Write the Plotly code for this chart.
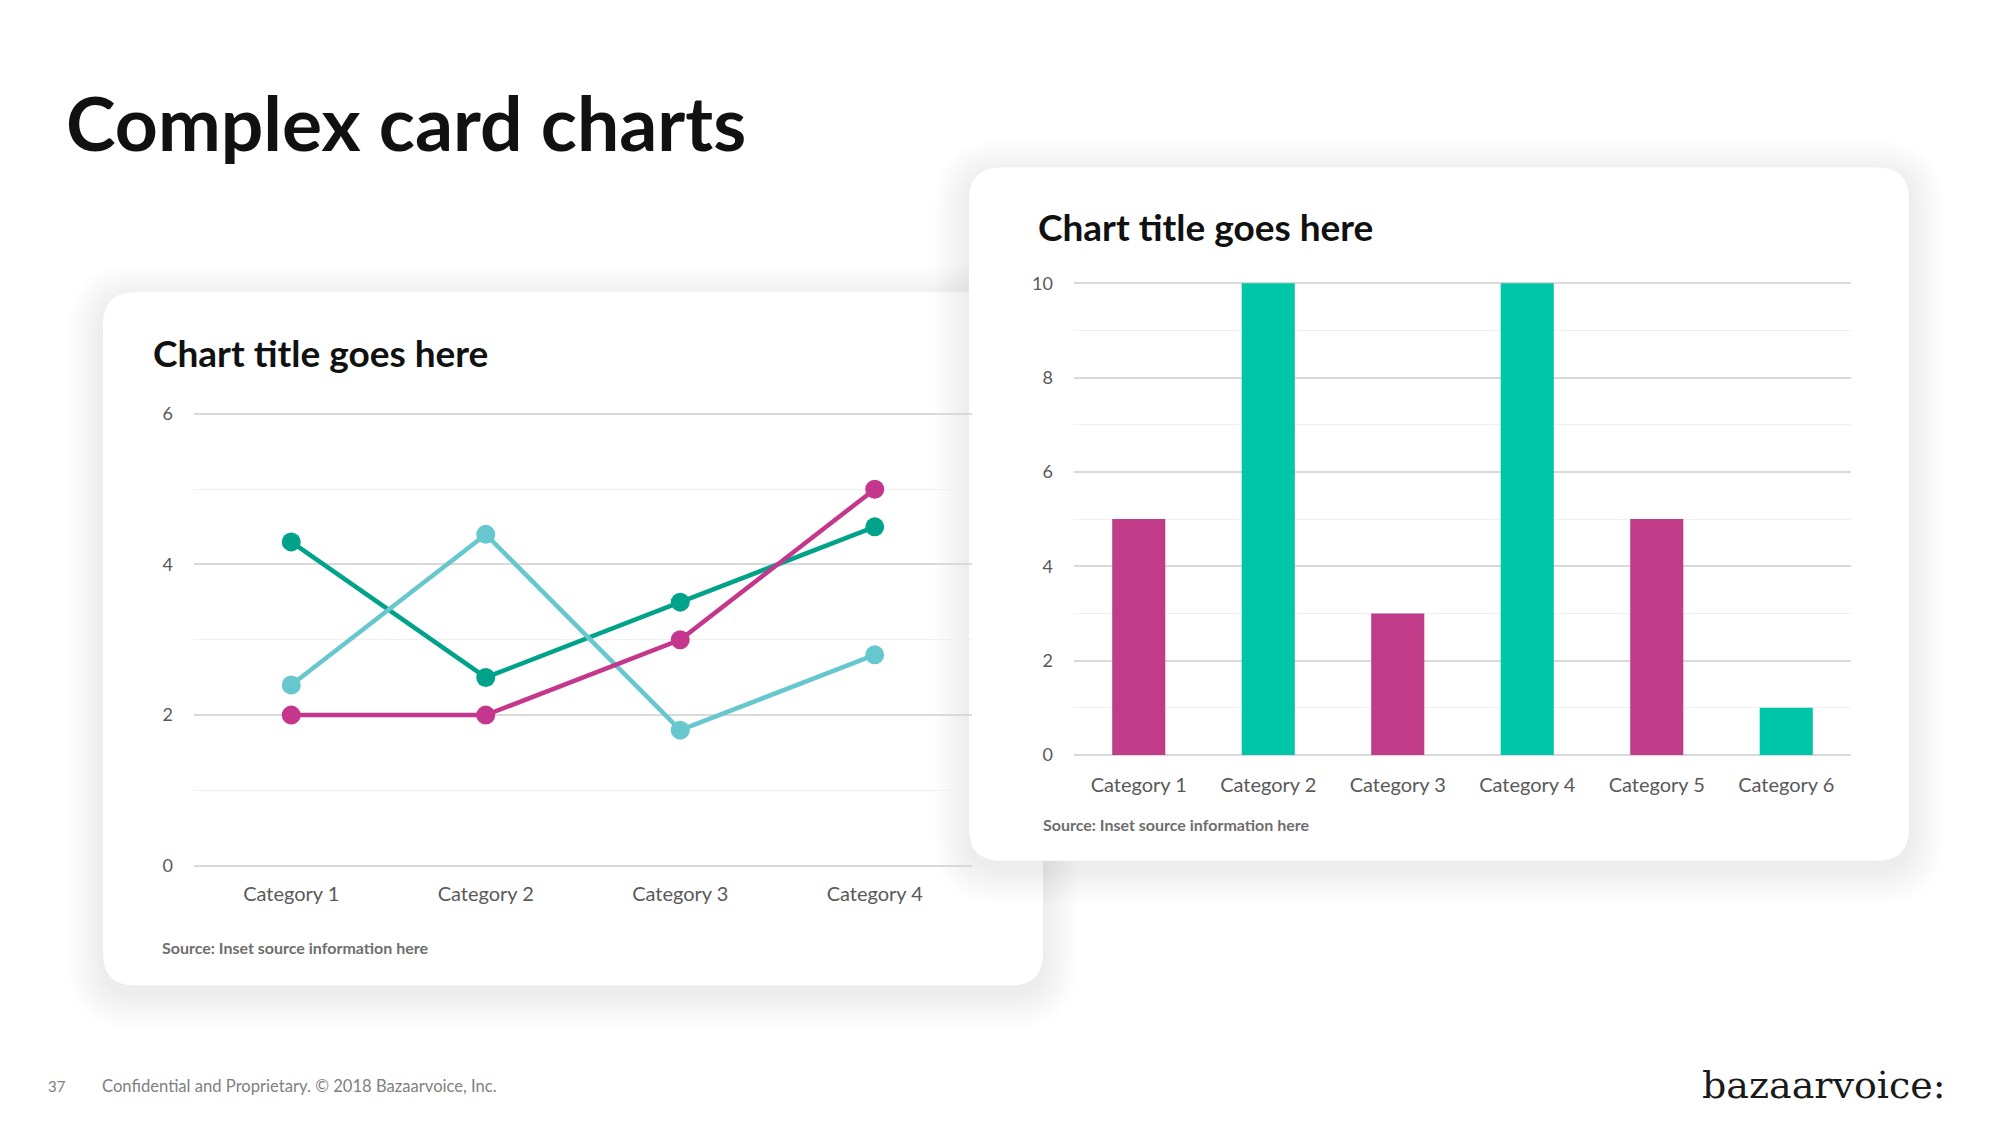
import plotly.graph_objects as go

W, H = 2000, 1125

# ---------------- data ----------------
line_categories = ["Category 1", "Category 2", "Category 3", "Category 4"]
series_green = [4.3, 2.5, 3.5, 4.5]
series_teal = [2.4, 4.4, 1.8, 2.8]
series_magenta = [2, 2, 3, 5]
line_major_ticks = [0, 2, 4, 6]
line_minor_ticks = [1, 3, 5]

bar_categories = ["Category 1", "Category 2", "Category 3", "Category 4", "Category 5", "Category 6"]
bar_values = [5, 10, 3, 10, 5, 1]
bar_major_ticks = [0, 2, 4, 6, 8, 10]
bar_minor_ticks = [1, 3, 5, 7, 9]

# ---------------- styles ----------------
GREEN = "#00A38A"
TEAL = "#66C8CE"
MAGENTA = "#C4378D"
BAR_TEAL = "#00C6A9"
BAR_MAGENTA = "#C03B88"
bar_colors = [BAR_MAGENTA, BAR_TEAL, BAR_MAGENTA, BAR_TEAL, BAR_MAGENTA, BAR_TEAL]
FONT = "Lato"
TICK_COLOR = "#595959"


def X(v):
    return v / W


def Y(v):
    return 1 - v / H


def rrect(x0, y0, x1, y1, r):
    return (
        f"M {X(x0 + r)},{Y(y0)} L {X(x1 - r)},{Y(y0)} Q {X(x1)},{Y(y0)} {X(x1)},{Y(y0 + r)} "
        f"L {X(x1)},{Y(y1 - r)} Q {X(x1)},{Y(y1)} {X(x1 - r)},{Y(y1)} "
        f"L {X(x0 + r)},{Y(y1)} Q {X(x0)},{Y(y1)} {X(x0)},{Y(y1 - r)} "
        f"L {X(x0)},{Y(y0 + r)} Q {X(x0)},{Y(y0)} {X(x0 + r)},{Y(y0)} Z"
    )


shapes = []


def card(x0, y0, x1, y1, r=32):
    for i in range(1, 19):
        e = i * 2
        dy = 8
        shapes.append(dict(
            type="path", xref="paper", yref="paper", layer="below",
            path=rrect(x0 - e, y0 - e + dy, x1 + e, y1 + e + dy, r + e),
            fillcolor="rgba(0,0,0,0.0048)", line=dict(width=0),
        ))
    shapes.append(dict(
        type="path", xref="paper", yref="paper", layer="below",
        path=rrect(x0, y0, x1, y1, r),
        fillcolor="white", line=dict(width=0),
    ))


card(103, 291, 1043, 986)
card(969, 166, 1909, 861)

fig = go.Figure()

for name, vals, col in [("Series 1", series_green, GREEN),
                        ("Series 2", series_teal, TEAL),
                        ("Series 3", series_magenta, MAGENTA)]:
    fig.add_trace(go.Scatter(
        x=line_categories, y=vals, name=name, mode="lines+markers",
        line=dict(color=col, width=4.5), marker=dict(color=col, size=19),
        xaxis="x", yaxis="y", showlegend=False,
    ))

fig.add_trace(go.Bar(
    x=bar_categories, y=bar_values, marker=dict(color=bar_colors, line=dict(width=0)),
    width=0.41, xaxis="x2", yaxis="y2", showlegend=False,
))

# left chart: value 0 at 866px, 6 at 413px
lu = (866 - 413) / 6
ly_lo, ly_hi = -0.15, 6.15
ldom = [Y(866 - ly_lo * lu), Y(866 - ly_hi * lu)]
# right chart: 0 at 755px, 10 at 282px
ru = (755 - 282) / 10
ry_lo, ry_hi = -0.2, 10.2
rdom = [Y(755 - ry_lo * ru), Y(755 - ry_hi * ru)]

xcommon = dict(type="category", showgrid=False, zeroline=False, showline=False, ticks="",
               tickfont=dict(family=FONT, size=20, color=TICK_COLOR))
ycommon = dict(showgrid=True, gridcolor="#D9D9D9", gridwidth=2, zeroline=False, showline=False,
               ticks="", tickfont=dict(family=FONT, size=18, color=TICK_COLOR), ticklabelstandoff=20)

fig.update_layout(
    width=W, height=H,
    margin=dict(l=0, r=0, t=0, b=0),
    paper_bgcolor="white", plot_bgcolor="rgba(0,0,0,0)",
    shapes=shapes,
    xaxis=dict(domain=[X(194), X(972)], anchor="y", range=[-0.5, 3.5], ticklabelstandoff=3, **xcommon),
    yaxis=dict(domain=ldom, anchor="x", range=[ly_lo, ly_hi], tickvals=line_major_ticks,
               minor=dict(tickvals=line_minor_ticks, showgrid=True, gridcolor="#F0F0F0", gridwidth=1),
               **ycommon),
    xaxis2=dict(domain=[X(1074), X(1851)], anchor="y2", range=[-0.5, 5.5], ticklabelstandoff=7, **xcommon),
    yaxis2=dict(domain=rdom, anchor="x2", range=[ry_lo, ry_hi], tickvals=bar_major_ticks,
                minor=dict(tickvals=bar_minor_ticks, showgrid=True, gridcolor="#F0F0F0", gridwidth=1),
                **ycommon),
    hovermode=False,
)


def label(text, x, y, size, color="black", family=FONT, bold=False):
    fig.add_annotation(
        text=f"<b>{text}</b>" if bold else text, x=X(x), y=Y(y), xref="paper", yref="paper",
        xanchor="left", yanchor="middle", showarrow=False,
        font=dict(family=family, size=size, color=color),
    )


label("Complex card charts", 64, 120, 75, "#111111", bold=True)
label("Chart title goes here", 151, 351, 37, "#111111", bold=True)
label("Chart title goes here", 1036, 225, 37, "#111111", bold=True)
label("Source: Inset source information here", 160, 948, 16, "#6E6E6E", bold=True)
label("Source: Inset source information here", 1041, 825, 16, "#6E6E6E", bold=True)
label("37", 46, 1087, 15, "#7F7F7F")
label("Confidential and Proprietary. © 2018 Bazaarvoice, Inc.", 100, 1087, 16.6, "#7F7F7F")
label("bazaarvoice:", 1700, 1086, 38, "#1A1A1A", family="DejaVu Serif")

fig.write_html("out.html")
